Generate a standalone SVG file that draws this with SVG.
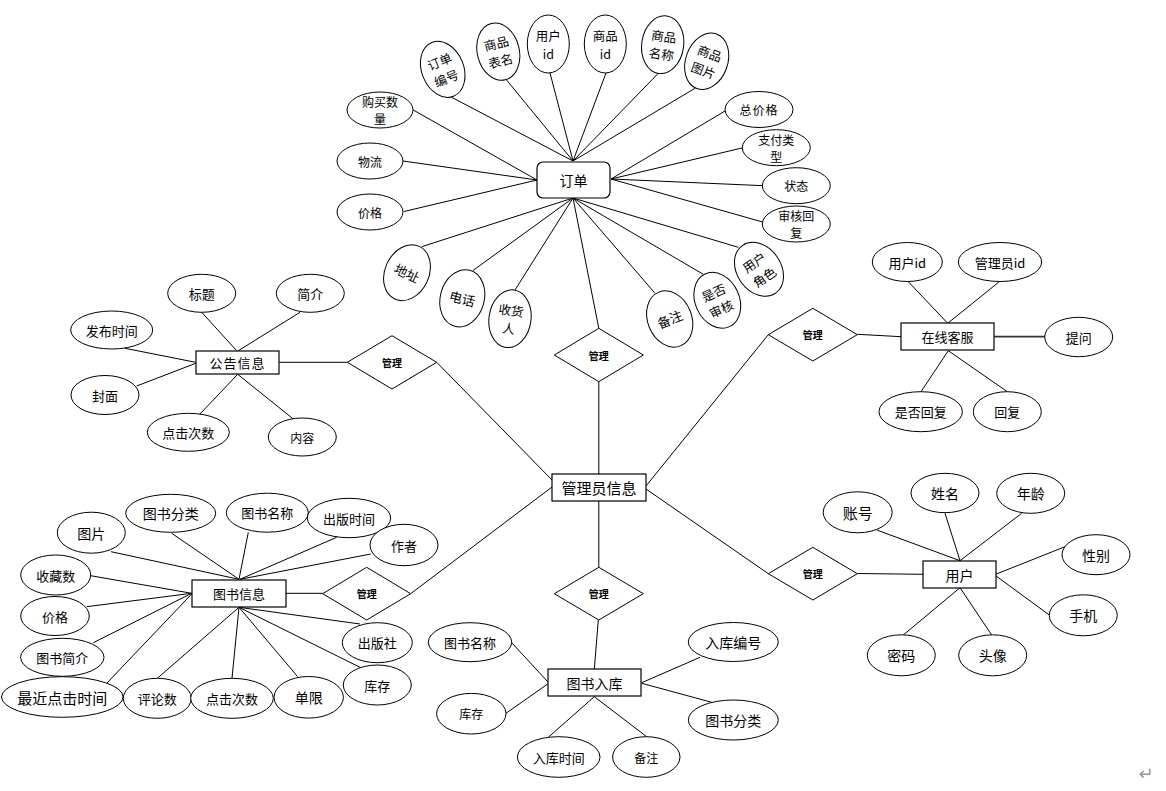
<svg xmlns="http://www.w3.org/2000/svg" width="1166" height="791" viewBox="0 0 1166 791">
<style>
.e{fill:#fff;stroke:#000;stroke-width:1}
.b{fill:#fff;stroke:#000;stroke-width:1.2}
.d{fill:#fff;stroke:#000;stroke-width:1}
.c line{stroke:#000;stroke-width:1}
text{font-family:"Noto Sans CJK SC","Noto Sans",sans-serif;text-anchor:middle;dominant-baseline:central;fill:#000}
.s12{font-size:12px}
.r{font-size:12.5px}
.s13{font-size:13px}
.s14{font-size:14px}
.s15{font-size:15px}
.dt{font-size:10px;font-weight:bold}
</style>
<rect width="1166" height="791" fill="#fff"/>
<g id="connectors" class="c">
<line x1="537" y1="180" x2="413.3" y2="110"/>
<line x1="537" y1="180" x2="403" y2="161"/>
<line x1="537" y1="180" x2="404" y2="211.5"/>
<line x1="573" y1="161" x2="451.7" y2="97.3"/>
<line x1="573" y1="161" x2="506" y2="79.3"/>
<line x1="573" y1="161" x2="550" y2="73"/>
<line x1="573" y1="161" x2="606" y2="73"/>
<line x1="573" y1="161" x2="658.3" y2="73.3"/>
<line x1="573" y1="161" x2="695" y2="88.3"/>
<line x1="611" y1="179" x2="726.7" y2="110"/>
<line x1="611" y1="179" x2="743.3" y2="147.7"/>
<line x1="611" y1="179" x2="763.3" y2="185.7"/>
<line x1="611" y1="179" x2="765" y2="222.7"/>
<line x1="573" y1="198" x2="421.7" y2="246.7"/>
<line x1="573" y1="198" x2="472.7" y2="270.7"/>
<line x1="573" y1="198" x2="515" y2="290"/>
<line x1="573" y1="198" x2="655" y2="293.3"/>
<line x1="573" y1="198" x2="703.3" y2="274.3"/>
<line x1="573" y1="198" x2="738.3" y2="247.3"/>
<line x1="573" y1="198" x2="598.8" y2="328.3"/>
<line x1="598.8" y1="381.7" x2="598.8" y2="474"/>
<line x1="436.7" y1="362.3" x2="552" y2="480"/>
<line x1="410.7" y1="593.7" x2="552" y2="487"/>
<line x1="768.3" y1="334.7" x2="646" y2="486"/>
<line x1="768.3" y1="573.7" x2="646" y2="489"/>
<line x1="598.8" y1="501" x2="598.8" y2="567.3"/>
<line x1="598.3" y1="620" x2="594.3" y2="669.3"/>
<line x1="279.3" y1="362.3" x2="347.3" y2="362.3"/>
<line x1="201.7" y1="312.3" x2="236.7" y2="350.7"/>
<line x1="300" y1="312.3" x2="238.3" y2="350.7"/>
<line x1="125" y1="348.3" x2="195.7" y2="362.3"/>
<line x1="136.7" y1="386" x2="195.7" y2="363.3"/>
<line x1="200" y1="414" x2="237.7" y2="374.3"/>
<line x1="293.3" y1="419" x2="237.7" y2="374.3"/>
<line x1="285.7" y1="593.3" x2="322.7" y2="593.3"/>
<line x1="111" y1="551.7" x2="239" y2="579.3"/>
<line x1="171.7" y1="533.3" x2="239" y2="579.3"/>
<line x1="248.3" y1="532.3" x2="239" y2="579.3"/>
<line x1="336.7" y1="537.3" x2="240" y2="579.3"/>
<line x1="370.7" y1="554" x2="240" y2="579.3"/>
<line x1="90.7" y1="575.7" x2="191.7" y2="593.3"/>
<line x1="86.7" y1="606.7" x2="191.7" y2="593.3"/>
<line x1="93.3" y1="642.7" x2="191.7" y2="593.3"/>
<line x1="106.7" y1="683.3" x2="191.7" y2="594"/>
<line x1="157.3" y1="678.3" x2="239" y2="607.3"/>
<line x1="232" y1="678.3" x2="239" y2="607.3"/>
<line x1="297.7" y1="676.7" x2="239" y2="607.3"/>
<line x1="360" y1="624" x2="239" y2="607.3"/>
<line x1="360" y1="667.3" x2="239" y2="607.3"/>
<line x1="857.3" y1="334.3" x2="901" y2="336.7"/>
<line x1="908.3" y1="281.7" x2="947.7" y2="323.3"/>
<line x1="999.3" y1="281.7" x2="947.7" y2="323.3"/>
<line x1="994.3" y1="336.7" x2="1045" y2="336.7" style="stroke-width:1.8;stroke:#333"/>
<line x1="921" y1="391.7" x2="948.3" y2="350.7"/>
<line x1="1007.3" y1="391.7" x2="948.3" y2="350.7"/>
<line x1="857.3" y1="573.5" x2="923.3" y2="574.3"/>
<line x1="876.7" y1="530" x2="960" y2="560.7"/>
<line x1="945" y1="513.3" x2="960" y2="560.7"/>
<line x1="1021.7" y1="513.3" x2="960" y2="560.7"/>
<line x1="1065" y1="546.7" x2="995.7" y2="574.3"/>
<line x1="1049.3" y1="615" x2="995.7" y2="575.7"/>
<line x1="903.3" y1="635" x2="960" y2="587.7"/>
<line x1="991.7" y1="635" x2="960" y2="587.7"/>
<line x1="511.7" y1="642.7" x2="547.7" y2="681.7"/>
<line x1="506" y1="713.3" x2="547.7" y2="684"/>
<line x1="548.3" y1="737.3" x2="594.3" y2="696.7"/>
<line x1="646.7" y1="736.7" x2="594.3" y2="696.7"/>
<line x1="700" y1="657.3" x2="641.7" y2="682.7"/>
<line x1="711.7" y1="702.3" x2="641.7" y2="683.3"/>
</g>

<!-- Order entity -->
<g id="order"><rect class="b" x="537" y="162" width="73" height="36" rx="6"/><text class="s14" x="573.5" y="180">订单</text></g>
<g id="o_qty"><ellipse class="e" cx="380" cy="110" rx="33" ry="18"/><text class="s12" x="380" y="101.5">购买数</text><text class="s12" x="380" y="118.5">量</text></g>
<g id="o_logistics"><ellipse class="e" cx="370" cy="161" rx="33" ry="18"/><text class="s12" x="370" y="161">物流</text></g>
<g id="o_price"><ellipse class="e" cx="370" cy="212" rx="33" ry="18"/><text class="s12" x="370" y="212">价格</text></g>
<g id="o_no" transform="translate(442.7,69.3) rotate(-22)"><ellipse class="e" cx="0" cy="0" rx="21" ry="29"/><text class="r" x="0" y="-9">订单</text><text class="r" x="0" y="9">编号</text></g>
<g id="o_table" transform="translate(498.3,51.7) rotate(-14)"><ellipse class="e" cx="0" cy="0" rx="21" ry="29"/><text class="r" x="0" y="-9">商品</text><text class="r" x="0" y="9">表名</text></g>
<g id="o_uid" transform="translate(548.3,44)"><ellipse class="e" cx="0" cy="0" rx="21" ry="29"/><text class="r" x="0" y="-9">用户</text><text class="r" x="0" y="9">id</text></g>
<g id="o_gid" transform="translate(605.3,44)"><ellipse class="e" cx="0" cy="0" rx="21" ry="29"/><text class="r" x="0" y="-9">商品</text><text class="r" x="0" y="9">id</text></g>
<g id="o_gname" transform="translate(662.7,44.7) rotate(8)"><ellipse class="e" cx="0" cy="0" rx="21" ry="29"/><text class="r" x="0" y="-9">商品</text><text class="r" x="0" y="9">名称</text></g>
<g id="o_gpic" transform="translate(706.7,61.3) rotate(20)"><ellipse class="e" cx="0" cy="0" rx="21" ry="29"/><text class="r" x="0" y="-9">商品</text><text class="r" x="0" y="9">图片</text></g>
<g id="o_total"><ellipse class="e" cx="759" cy="109.5" rx="34" ry="18"/><text class="s12" x="759" y="109.5" letter-spacing="1">总价格</text></g>
<g id="o_paytype"><ellipse class="e" cx="776.3" cy="147.7" rx="34" ry="18"/><text class="s12" x="776.3" y="139.2">支付类</text><text class="s12" x="776.3" y="156.2">型</text></g>
<g id="o_status"><ellipse class="e" cx="796.3" cy="185.7" rx="34" ry="18"/><text class="s12" x="796.3" y="185.7">状态</text></g>
<g id="o_reply"><ellipse class="e" cx="796.3" cy="224" rx="34" ry="18"/><text class="s12" x="796.3" y="215.5">审核回</text><text class="s12" x="796.3" y="232.5">复</text></g>
<g id="o_addr" transform="translate(407,272.7) rotate(25)"><ellipse class="e" cx="0" cy="0" rx="22" ry="29"/><text class="s13" x="0" y="0">地址</text></g>
<g id="o_phone" transform="translate(462.3,298.3) rotate(15)"><ellipse class="e" cx="0" cy="0" rx="22" ry="29"/><text class="s13" x="0" y="0">电话</text></g>
<g id="o_receiver" transform="translate(510,318.7) rotate(8)"><ellipse class="e" cx="0" cy="0" rx="21" ry="29"/><text class="r" x="0" y="-9">收货</text><text class="r" x="0" y="9">人</text></g>
<g id="o_note" transform="translate(669.7,319) rotate(-22)"><ellipse class="e" cx="0" cy="0" rx="22" ry="29"/><text class="s13" x="0" y="0">备注</text></g>
<g id="o_audit" transform="translate(717.3,300.3) rotate(-25)"><ellipse class="e" cx="0" cy="0" rx="22" ry="29"/><text class="r" x="0" y="-9">是否</text><text class="r" x="0" y="9">审核</text></g>
<g id="o_role" transform="translate(759,269.3) rotate(-35)"><ellipse class="e" cx="0" cy="0" rx="22" ry="29"/><text class="r" x="0" y="-9">用户</text><text class="r" x="0" y="9">角色</text></g>
<g id="rel_order"><polygon class="d" points="598.8,328.3 643.3,355 598.8,381.7 554.3,355"/><text class="dt" x="598.8" y="355">管理</text></g>

<!-- Admin -->
<g id="admin"><rect class="b" x="552" y="474" width="94" height="27"/><text class="s15" x="599" y="487.5">管理员信息</text></g>

<!-- Notice -->
<g id="notice"><rect class="b" x="196" y="351" width="83" height="23"/><text class="s13" x="237.5" y="362.5" letter-spacing="1">公告信息</text></g>
<g id="rel_notice"><polygon class="d" points="392,335.7 436.7,362.3 392,389 347.3,362.3"/><text class="dt" x="392" y="362.3">管理</text></g>
<g id="n_title"><ellipse class="e" cx="201.7" cy="293.3" rx="34" ry="19"/><text class="s13" x="201.7" y="293.3">标题</text></g>
<g id="n_intro"><ellipse class="e" cx="310.3" cy="293.3" rx="34" ry="19"/><text class="s13" x="310.3" y="293.3">简介</text></g>
<g id="n_time"><ellipse class="e" cx="111.7" cy="330" rx="41" ry="19"/><text class="s13" x="111.7" y="330">发布时间</text></g>
<g id="n_cover"><ellipse class="e" cx="105" cy="395" rx="34" ry="19.5"/><text class="s13" x="105" y="395">封面</text></g>
<g id="n_clicks"><ellipse class="e" cx="188.3" cy="432.3" rx="41" ry="19"/><text class="s13" x="188.3" y="432.3">点击次数</text></g>
<g id="n_content"><ellipse class="e" cx="302.3" cy="437" rx="34" ry="19"/><text class="s12" x="302.3" y="437">内容</text></g>

<!-- Book info -->
<g id="book"><rect class="b" x="192" y="580" width="94" height="27"/><text class="s13" x="239" y="593.5">图书信息</text></g>
<g id="rel_book"><polygon class="d" points="366.7,567.3 410.7,593.7 366.7,620 322.7,593.7"/><text class="dt" x="366.7" y="593.7">管理</text></g>
<g id="b_pic"><ellipse class="e" cx="91.3" cy="532.7" rx="34" ry="20.5"/><text class="s14" x="91.3" y="532.7">图片</text></g>
<g id="b_cat"><ellipse class="e" cx="170.7" cy="513.3" rx="45" ry="19"/><text class="s14" x="170.7" y="513.3">图书分类</text></g>
<g id="b_name"><ellipse class="e" cx="267.3" cy="512.7" rx="41" ry="19.5"/><text class="s13" x="267.3" y="512.7">图书名称</text></g>
<g id="b_pubtime"><ellipse class="e" cx="349" cy="518" rx="41.7" ry="19.7"/><text class="s13" x="349" y="518">出版时间</text></g>
<g id="b_author"><ellipse class="e" cx="404" cy="545" rx="34" ry="20.7"/><text class="s13" x="404" y="545">作者</text></g>
<g id="b_fav"><ellipse class="e" cx="55.7" cy="575" rx="35" ry="20"/><text class="s13" x="55.7" y="575">收藏数</text></g>
<g id="b_price"><ellipse class="e" cx="55" cy="616" rx="34.3" ry="19.5"/><text class="s13" x="55" y="616">价格</text></g>
<g id="b_intro"><ellipse class="e" cx="62.3" cy="657.3" rx="41.7" ry="19"/><text class="s13" x="62.3" y="657.3">图书简介</text></g>
<g id="b_recent"><ellipse class="e" cx="62.3" cy="697" rx="60.8" ry="20.3"/><text class="s15" x="62.3" y="697">最近点击时间</text></g>
<g id="b_comments"><ellipse class="e" cx="157.3" cy="698.3" rx="34" ry="20"/><text class="s13" x="157.3" y="698.3">评论数</text></g>
<g id="b_clicks"><ellipse class="e" cx="232" cy="698.3" rx="41.3" ry="20"/><text class="s13" x="232" y="698.3">点击次数</text></g>
<g id="b_limit"><ellipse class="e" cx="308.7" cy="697.3" rx="34.7" ry="20.8"/><text class="s14" x="308.7" y="697.3">单限</text></g>
<g id="b_publisher"><ellipse class="e" cx="377.3" cy="642.7" rx="35" ry="20"/><text class="s13" x="377.3" y="642.7">出版社</text></g>
<g id="b_stock"><ellipse class="e" cx="377.3" cy="685" rx="34" ry="20"/><text class="s13" x="377.3" y="685">库存</text></g>

<!-- Book inbound -->
<g id="rel_inbound"><polygon class="d" points="598.8,567.3 643.3,593.7 598.8,620 554.3,593.7"/><text class="dt" x="598.8" y="593.7">管理</text></g>
<g id="inbound"><rect class="b" x="548" y="669" width="93" height="27"/><text class="s14" x="594.5" y="682.5">图书入库</text></g>
<g id="i_name"><ellipse class="e" cx="470" cy="642.2" rx="41.7" ry="19.5"/><text class="s13" x="470" y="642.2">图书名称</text></g>
<g id="i_stock"><ellipse class="e" cx="471.3" cy="713.7" rx="34.7" ry="20.3"/><text class="s12" x="471.3" y="713.7">库存</text></g>
<g id="i_time"><ellipse class="e" cx="558.7" cy="757" rx="41.3" ry="20.3"/><text class="s13" x="558.7" y="757">入库时间</text></g>
<g id="i_note"><ellipse class="e" cx="646.3" cy="757" rx="33.7" ry="20.3"/><text class="s12" x="646.3" y="757">备注</text></g>
<g id="i_no"><ellipse class="e" cx="733.3" cy="642" rx="45" ry="19.5"/><text class="s14" x="733.3" y="642">入库编号</text></g>
<g id="i_cat"><ellipse class="e" cx="733.3" cy="720" rx="45" ry="20"/><text class="s14" x="733.3" y="720">图书分类</text></g>

<!-- Customer service -->
<g id="rel_cs"><polygon class="d" points="812.8,308.3 857.3,334.7 812.8,361 768.3,334.7"/><text class="dt" x="812.8" y="334.7">管理</text></g>
<g id="cs"><rect class="b" x="901" y="323" width="93" height="27"/><text class="s13" x="947.5" y="336.5">在线客服</text></g>
<g id="cs_uid"><ellipse class="e" cx="907.3" cy="262" rx="35" ry="19.5"/><text class="s13" x="907.3" y="262">用户id</text></g>
<g id="cs_aid"><ellipse class="e" cx="1000" cy="262" rx="41.7" ry="19.5"/><text class="s13" x="1000" y="262">管理员id</text></g>
<g id="cs_ask"><ellipse class="e" cx="1078.7" cy="337" rx="34" ry="19.7"/><text class="s13" x="1078.7" y="337">提问</text></g>
<g id="cs_replied"><ellipse class="e" cx="920.7" cy="411.7" rx="41.7" ry="20"/><text class="s13" x="920.7" y="411.7">是否回复</text></g>
<g id="cs_reply"><ellipse class="e" cx="1007.3" cy="411.7" rx="34" ry="20"/><text class="s13" x="1007.3" y="411.7">回复</text></g>

<!-- User -->
<g id="rel_user"><polygon class="d" points="812.8,547.3 857.3,573.7 812.8,600 768.3,573.7"/><text class="dt" x="812.8" y="573.7">管理</text></g>
<g id="user"><rect class="b" x="923" y="561" width="73" height="27"/><text class="s14" x="959.5" y="574.5">用户</text></g>
<g id="u_acc"><ellipse class="e" cx="857.7" cy="512.3" rx="34.5" ry="20.5"/><text class="s15" x="857.7" y="512.3">账号</text></g>
<g id="u_name"><ellipse class="e" cx="945" cy="493" rx="34" ry="19.7"/><text class="s14" x="945" y="493">姓名</text></g>
<g id="u_age"><ellipse class="e" cx="1030.7" cy="493.3" rx="34" ry="20"/><text class="s14" x="1030.7" y="493.3">年龄</text></g>
<g id="u_sex"><ellipse class="e" cx="1096" cy="554.7" rx="34" ry="20"/><text class="s14" x="1096" y="554.7">性别</text></g>
<g id="u_phone"><ellipse class="e" cx="1083.3" cy="615.3" rx="34" ry="20.5"/><text class="s14" x="1083.3" y="615.3">手机</text></g>
<g id="u_pwd"><ellipse class="e" cx="901.3" cy="655.3" rx="34" ry="20.5"/><text class="s14" x="901.3" y="655.3">密码</text></g>
<g id="u_avatar"><ellipse class="e" cx="992.7" cy="655.3" rx="34" ry="20.5"/><text class="s14" x="992.7" y="655.3">头像</text></g>

<text x="1146" y="773" style="font-size:18px;fill:#999;font-family:'DejaVu Sans',sans-serif">↵</text>
</svg>
